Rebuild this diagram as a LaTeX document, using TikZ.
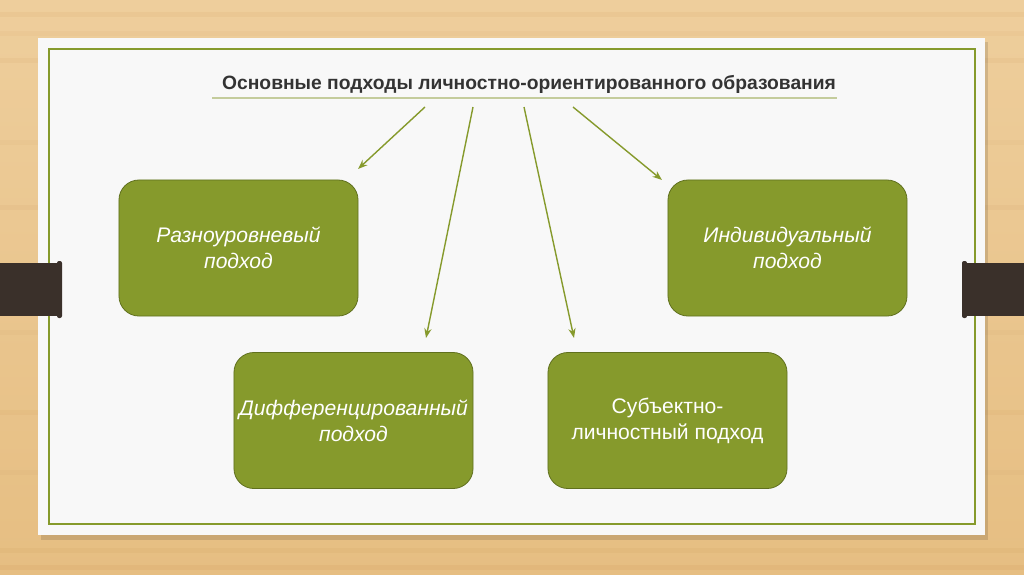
\documentclass[tikz,border=0pt]{standalone}
\usepackage{fontspec}
\setmainfont{Liberation Sans}
\usetikzlibrary{arrows.meta}
\definecolor{woodlight}{RGB}{238,206,156}
\definecolor{wooddark}{RGB}{230,190,130}
\definecolor{paper}{RGB}{248,248,248}
\definecolor{boxgreen}{RGB}{134,154,44}
\definecolor{boxedge}{RGB}{96,112,30}
\definecolor{rulegreen}{RGB}{196,204,156}
\definecolor{tabbrown}{RGB}{58,48,42}
\definecolor{titlegray}{RGB}{51,51,51}
\begin{document}
\begin{tikzpicture}[x=0.025cm,y=-0.025cm,
  approach/.style={draw=boxedge, fill=boxgreen, rounded corners=0.5cm,
    minimum width=5.975cm, minimum height=3.4cm, text=white, align=center,
    font=\fontsize{15}{18.5}\selectfont, line width=0.02cm},
  link/.style={draw=boxgreen, line width=0.035cm,
    -{Stealth[length=0.24cm,width=0.18cm]}}]
  \useasboundingbox (0,0) rectangle (1024,574);

  % Drawing wooden table
  \fill [top color=woodlight, bottom color=wooddark] (0,0) rectangle (1024,574);%
  \foreach \yy/\op in {12/0.08,31/0.06,58/0.08,140/0.05,205/0.07,330/0.05,410/0.07,470/0.05,548/0.08,565/0.1}
    \fill [brown, opacity=\op] (0,\yy) rectangle (1024,\yy+5);%

  % Drawing paper sheet with its shadow
  \fill [black, opacity=0.12] (41,42) rectangle (988,540);%
  \fill [paper] (38,38) rectangle (985,535);%
  \draw [boxgreen, line width=0.035cm] (49,49) rectangle (975,524);%

  % Drawing tabs
  \fill [tabbrown] (0,263) rectangle (59,316);%
  \fill [tabbrown, rounded corners=0.05cm] (57,261) rectangle (62,318);%
  \fill [tabbrown] (965,263) rectangle (1024,316);%
  \fill [tabbrown, rounded corners=0.05cm] (962,261) rectangle (967,318);%

  % Title and its rule
  \node [text=titlegray, font=\fontsize{13.7}{16}\selectfont\bfseries] (title) at (529,84)
    {Основные подходы личностно-ориентированного образования};%
  \draw [rulegreen, line width=0.05cm] (212,98) -- (837,98);%

  % Boxes
  \node [approach, font=\fontsize{15}{18.5}\selectfont\itshape] (level) at (238.5,248)
    {Разноуровневый\\подход};%
  \node [approach, font=\fontsize{15}{18.5}\selectfont\itshape] (indiv) at (787.5,248)
    {Индивидуальный\\подход};%
  \node [approach, font=\fontsize{15}{18.5}\selectfont\itshape] (diff) at (353.5,420.5)
    {Дифференцированный\\подход};%
  \node [approach] (subj) at (667.5,420.5)
    {Субъектно-\\личностный подход};%

  % Arrow ends
  \coordinate (s1) at (425,107);
  \coordinate (s2) at (473,107);
  \coordinate (s3) at (524,107);
  \coordinate (s4) at (573,107);
  \coordinate (e1) at (358,169);
  \coordinate (e2) at (426,338);
  \coordinate (e3) at (574,338);
  \coordinate (e4) at (662,180);

  % Drawing arrows
  \draw [link] (s1) -- (e1);%
  \draw [link] (s2) -- (e2);%
  \draw [link] (s3) -- (e3);%
  \draw [link] (s4) -- (e4);%
\end{tikzpicture}
\end{document}
